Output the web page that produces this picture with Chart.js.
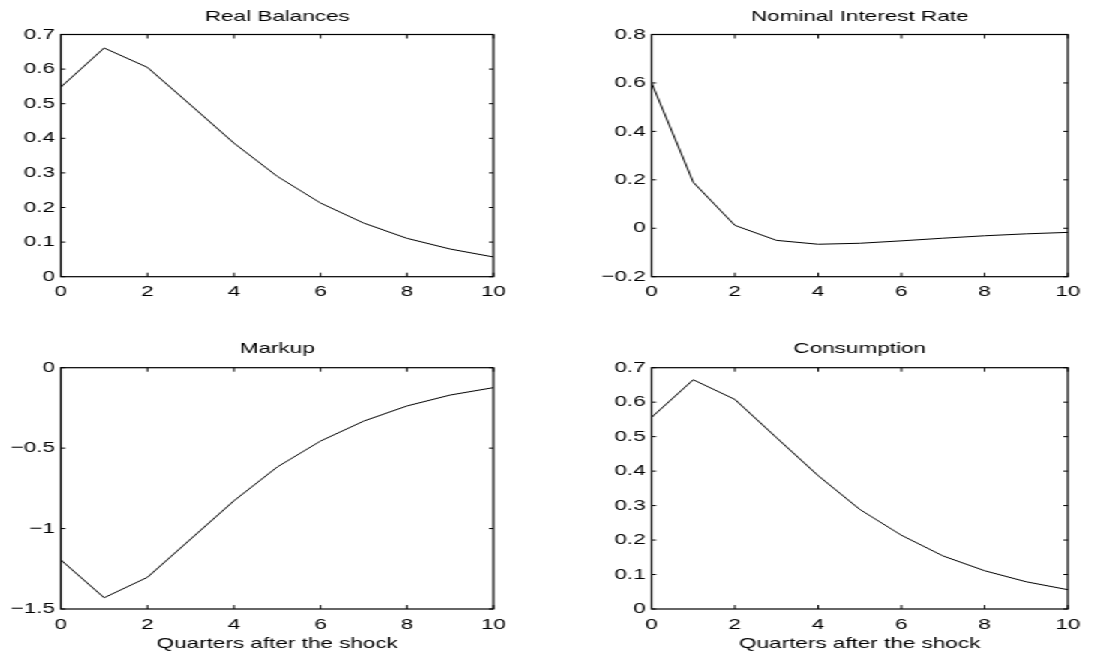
<!DOCTYPE html>
<html lang="en">
<head>
<meta charset="UTF-8">
<title>Impulse responses</title>
<style>
  body {
    margin: 0;
    background: #fff;
  }
  /* the figure is drawn narrow and stretched sideways, like the original */
  #figure {
    position: absolute;
    left: 0;
    top: 0;
    width: 734px;
    height: 657px;
    transform: scaleX(1.5);
    transform-origin: 0 0;
  }
  #figure canvas {
    position: absolute;
  }
</style>
<script src="https://cdn.jsdelivr.net/npm/chart.js@4"></script>
</head>
<body>
<div id="figure">
  <canvas id="c1" width="367" height="320" style="left:0;top:0"></canvas>
  <canvas id="c2" width="367" height="320" style="left:367px;top:0"></canvas>
  <canvas id="c3" width="367" height="337" style="left:0;top:320px"></canvas>
  <canvas id="c4" width="367" height="337" style="left:367px;top:320px"></canvas>
</div>

<script>
// data
const quarters = [0, 1, 2, 3, 4, 5, 6, 7, 8, 9, 10];
const xTicks = [0, 2, 4, 6, 8, 10];

const realBalances = [0.548, 0.661, 0.605, 0.496, 0.386, 0.290, 0.213, 0.155, 0.111, 0.080, 0.057];
const interestRate = [0.600, 0.190, 0.012, -0.050, -0.066, -0.062, -0.052, -0.041, -0.031, -0.023, -0.017];
const markup = [-1.195, -1.430, -1.303, -1.065, -0.827, -0.617, -0.456, -0.332, -0.238, -0.170, -0.124];
const consumption = [0.556, 0.665, 0.608, 0.497, 0.387, 0.289, 0.214, 0.154, 0.111, 0.079, 0.056];

const ticksReal = [0, 0.1, 0.2, 0.3, 0.4, 0.5, 0.6, 0.7];
const ticksRate = [-0.2, 0, 0.2, 0.4, 0.6, 0.8];
const ticksMarkup = [-1.5, -1, -0.5, 0];
const ticksCons = [0, 0.1, 0.2, 0.3, 0.4, 0.5, 0.6, 0.7];

const FONT = "'Liberation Sans', Arial, Helvetica, sans-serif";
const FS = 15;

// box round the axes + inward tick marks on all sides
const matlabBox = {
  id: 'matlabBox',
  afterDatasetsDraw(chart) {
    const ctx = chart.ctx;
    const a = chart.chartArea;
    const sx = chart.scales.x, sy = chart.scales.y;
    ctx.save();
    ctx.strokeStyle = '#000';
    ctx.lineWidth = 1;
    ctx.beginPath();
    sx.ticks.forEach(t => {
      const px = sx.getPixelForValue(t.value);
      ctx.moveTo(px, a.bottom); ctx.lineTo(px, a.bottom - 4);
      ctx.moveTo(px, a.top); ctx.lineTo(px, a.top + 4);
    });
    sy.ticks.forEach(t => {
      const py = sy.getPixelForValue(t.value);
      ctx.moveTo(a.left, py); ctx.lineTo(a.left + 3, py);
      ctx.moveTo(a.right, py); ctx.lineTo(a.right - 3, py);
    });
    ctx.stroke();
    ctx.lineWidth = 1.2;
    ctx.strokeRect(a.left, a.top, a.right - a.left, a.bottom - a.top);
    ctx.restore();
  }
};

function fmt(v) {
  return String(Math.round(v * 10) / 10).replace('-', '\u2212');
}

function makeChart(id, opt) {
  const ctx = document.getElementById(id).getContext('2d');
  return new Chart(ctx, {
    type: 'line',
    data: {
      labels: quarters,
      datasets: [{
        data: quarters.map((q, i) => ({x: q, y: opt.values[i]})),
        borderColor: '#000',
        borderWidth: 1,
        pointRadius: 0,
        fill: false,
        tension: 0
      }]
    },
    options: {
      responsive: false,
      animation: false,
      layout: { padding: { right: opt.padRight, top: 0, bottom: 0, left: 0 } },
      plugins: {
        legend: { display: false },
        tooltip: { enabled: false },
        title: {
          display: true,
          text: opt.title,
          fullSize: false,
          color: '#000',
          font: { family: FONT, size: FS, weight: 'normal' },
          padding: opt.titlePad
        }
      },
      scales: {
        x: {
          type: 'linear',
          min: 0,
          max: 10,
          afterBuildTicks: s => { s.ticks = xTicks.map(v => ({value: v})); },
          afterFit: s => { s.height = opt.xHeight; },
          grid: { display: false, drawTicks: false },
          border: { display: false },
          ticks: {
            color: '#000',
            padding: 6.6,
            maxRotation: 0,
            font: { family: FONT, size: FS },
            callback: v => fmt(v)
          },
          title: {
            display: !!opt.xTitle,
            text: opt.xTitle || '',
            color: '#000',
            font: { family: FONT, size: FS },
            padding: { top: 0, bottom: 4.5 }
          }
        },
        y: {
          min: opt.yTicks[0],
          max: opt.yTicks[opt.yTicks.length - 1],
          afterBuildTicks: s => { s.ticks = opt.yTicks.map(v => ({value: v})); },
          afterFit: s => { s.width = opt.yWidth; },
          grid: { display: false, drawTicks: false },
          border: { display: false },
          ticks: {
            color: '#000',
            padding: 4,
            font: { family: FONT, size: FS },
            callback: v => fmt(v)
          }
        }
      }
    },
    plugins: [matlabBox]
  });
}

makeChart('c1', {
  title: 'Real Balances', values: realBalances, yTicks: ticksReal,
  yWidth: 40.5, padRight: 38, xHeight: 43.3,
  titlePad: { top: 7.5, bottom: 9 }
});
makeChart('c2', {
  title: 'Nominal Interest Rate', values: interestRate, yTicks: ticksRate,
  yWidth: 67.5, padRight: 22, xHeight: 43.3,
  titlePad: { top: 7.5, bottom: 9 }
});
makeChart('c3', {
  title: 'Markup', values: markup, yTicks: ticksMarkup,
  yWidth: 40.5, padRight: 38, xHeight: 48,
  titlePad: { top: 20.2, bottom: 9.5 },
  xTitle: 'Quarters after the shock'
});
makeChart('c4', {
  title: 'Consumption', values: consumption, yTicks: ticksCons,
  yWidth: 67.5, padRight: 22, xHeight: 48,
  titlePad: { top: 20.2, bottom: 9.5 },
  xTitle: 'Quarters after the shock'
});
</script>
</body>
</html>
